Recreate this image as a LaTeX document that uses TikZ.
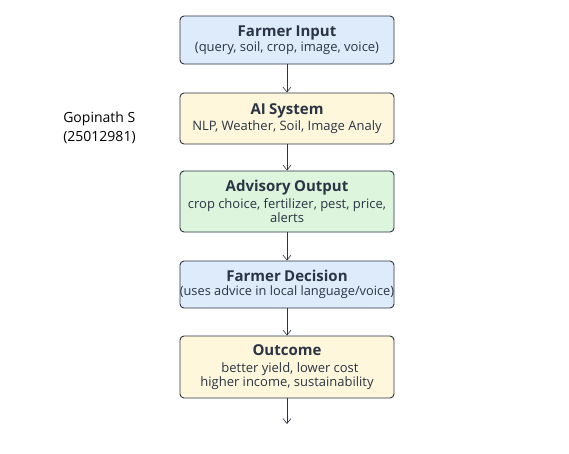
\documentclass[tikz,border=0pt]{standalone}
\usepackage{fontspec}
\setmainfont{Open Sans}
\usetikzlibrary{positioning,arrows.meta}

\definecolor{inkdark}{HTML}{2B3444}
\definecolor{fillblue}{HTML}{DDEBFA}
\definecolor{fillyellow}{HTML}{FEF7DC}
\definecolor{fillgreen}{HTML}{DDF5DC}

\begin{document}
\begin{tikzpicture}[x=1pt,y=-1pt,->,>={Straight Barb[length=5pt,width=8pt]},
                    semithick,draw=inkdark,
                    step box/.style={rectangle,rounded corners=4pt,draw=inkdark,
                      line width=0.9pt,minimum width=214pt,text width=210pt,
                      align=center,inner sep=2pt,text=inkdark}]

  \useasboundingbox (0,0) rectangle (569,453);

  \node[step box,fill=fillblue,minimum height=48pt] (input) at (287,40)
    {{\fontsize{15}{17}\selectfont\bfseries Farmer Input}\\[0.5pt]
     {\fontsize{13}{16.5}\selectfont (query, soil, crop, image, voice)}};
  \node[step box,fill=fillyellow,minimum height=51pt] (ai) at (287,118.5)
    {{\fontsize{15}{17}\selectfont\bfseries AI System}\\[1pt]
     {\fontsize{13}{16.5}\selectfont NLP, Weather, Soil, Image Analy}};
  \node[step box,fill=fillgreen,minimum height=61pt] (advice) at (287,201.5)
    {{\fontsize{15}{17}\selectfont\bfseries Advisory Output}\\[0pt]
     {\fontsize{13}{16.5}\selectfont crop choice, fertilizer, pest, price,\\ alerts}};
  \node[step box,fill=fillblue,minimum height=47pt] (decision) at (287,284.5)
    {{\fontsize{15}{17}\selectfont\bfseries Farmer Decision}\\[1.5pt]
     {\fontsize{12.8}{16}\selectfont\makebox[\linewidth]{(uses advice in local language/voice)}}};
  \node[step box,fill=fillyellow,minimum height=62pt] (outcome) at (287,367)
    {{\fontsize{15}{17}\selectfont\bfseries Outcome}\\[0pt]
     {\fontsize{13}{16.5}\selectfont \hspace*{6pt}better yield, lower cost\\ higher income, sustainability}};
  \coordinate (end) at (287,424);

  \node[align=left,anchor=west,inner sep=0pt,text=black,font=\fontsize{14}{19}\selectfont] (author) at (63,127.5)
    {Gopinath S\\(25012981)};

  \path[draw=inkdark]
    (input) edge (ai)
    (ai) edge (advice)
    (advice) edge (decision)
    (decision) edge (outcome)
    (outcome) edge (end);
\end{tikzpicture}
\end{document}
